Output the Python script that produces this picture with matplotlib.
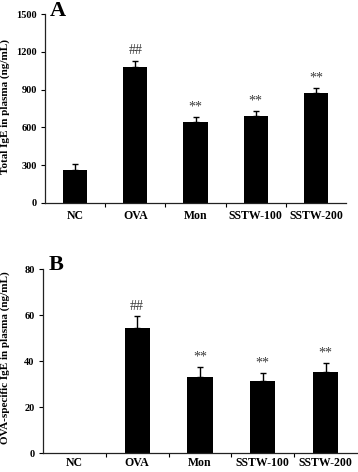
import numpy as np
import matplotlib
matplotlib.use("Agg")
import matplotlib.pyplot as plt

categories = ["NC", "OVA", "Mon", "SSTW-100", "SSTW-200"]

total_ige = [262, 1077, 640, 692, 870]
total_ige_err = [43, 53, 44, 38, 45]
total_marks = ["", "##", "**", "**", "**"]

ova_ige = [np.nan, 54.5, 33.0, 31.3, 35.2]
ova_ige_err = [np.nan, 5.2, 4.5, 3.5, 4.2]
ova_marks = ["", "##", "**", "**", "**"]

plt.rcParams['font.family'] = ['Liberation Serif', 'DejaVu Serif']
plt.rcParams['font.weight'] = 'bold'

W, H = 358, 472
fig = plt.figure(figsize=(W / 100, H / 100), dpi=100)
fig.patch.set_facecolor('white')


def panel(rect, vals, errs, marks, ymax, step, ylabel, letter, letter_pos, label_coords, xpad):
    ax = fig.add_axes(rect)
    x = np.arange(len(categories))
    lower = [0] * len(vals)
    ax.bar(x, vals, width=0.4, color='black', zorder=2)
    ax.errorbar(x, vals, yerr=[lower, errs], fmt='none', ecolor='black',
                elinewidth=1.0, capsize=2.2, capthick=1.0, zorder=3)
    for xi, v, e, m in zip(x, vals, errs, marks):
        if m and not np.isnan(v):
            ax.annotate(m, (xi, v + e), xytext=(0, 2.5), textcoords='offset points',
                        ha='center', va='bottom', fontsize=10, color='#3a3a3a',
                        fontweight='normal')
    ax.set_xlim(-0.5, len(categories) - 0.5)
    ax.set_ylim(0, ymax)
    ax.set_yticks(np.arange(0, ymax + step / 2, step))
    ax.set_xticks(x)
    ax.set_xticklabels(categories, fontsize=8.5, fontweight='bold')
    ax.set_xticks(np.arange(0.5, len(categories) - 0.5, 1), minor=True)
    ax.tick_params(axis='x', which='major', length=0, pad=xpad)
    ax.tick_params(axis='x', which='minor', length=3, width=0.8, direction='out')
    ax.tick_params(axis='y', length=3, width=0.8, direction='out', pad=3, labelsize=7.5)
    for lab in ax.get_yticklabels():
        lab.set_fontweight('bold')
    for s in ['top', 'right']:
        ax.spines[s].set_visible(False)
    for s in ['left', 'bottom']:
        ax.spines[s].set_linewidth(0.9)
        ax.spines[s].set_color('#222222')
    ax.set_ylabel(ylabel, fontsize=8, fontweight='bold')
    ax.yaxis.set_label_coords(*label_coords)
    fig.text(letter_pos[0], letter_pos[1], letter, fontsize=16, fontweight='bold',
             ha='center', va='center')
    return ax


panel([45 / W, 1 - 202.7 / H, 301 / W, 188.4 / H], total_ige, total_ige_err, total_marks,
      1500, 300, "Total IgE in plasma (ng/mL)", "A", (57.5 / W, 1 - 11 / H), (-0.115, 0.51), 5.5)
panel([43 / W, 1 - 453.3 / H, 314 / W, 184 / H], ova_ige, ova_ige_err, ova_marks,
      80, 20, "OVA-specific IgE in plasma (ng/mL)", "B", (56.5 / W, 1 - 264.5 / H), (-0.105, 0.518), 3)

fig.savefig("out.png", dpi=100, facecolor='white')
